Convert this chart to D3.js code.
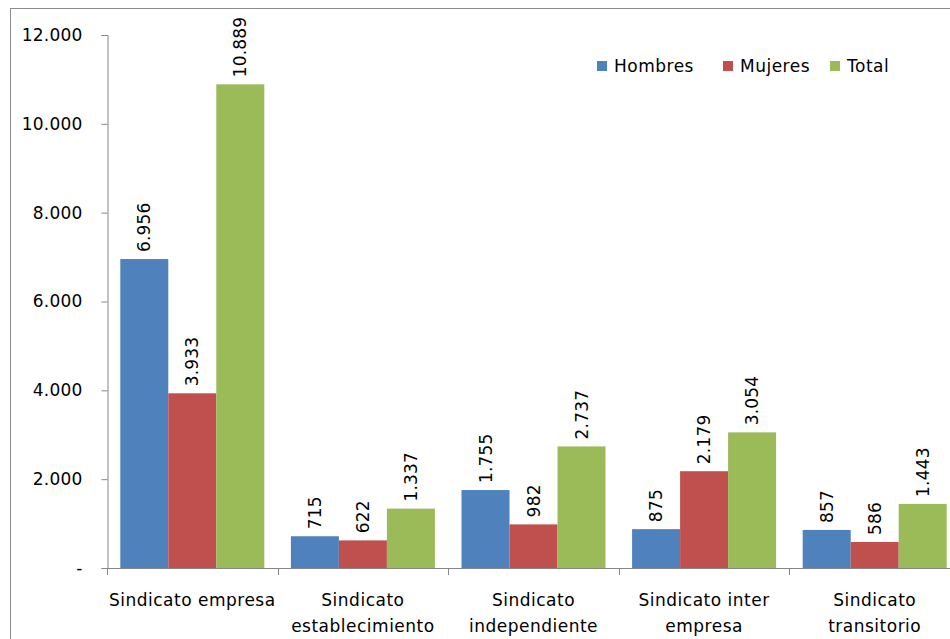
<!DOCTYPE html>
<html>
<head>
<meta charset="utf-8">
<script src="https://cdn.jsdelivr.net/npm/d3@7"></script>
<style>
  body { margin: 0; background: #fff; }
  text { font-family: "DejaVu Sans", Verdana, sans-serif; fill: #000; }
</style>
</head>
<body>
<svg width="950" height="639"></svg>
<script>
// Sindicatos por tipo, socios por sexo

const categories = ['Sindicato empresa', 'Sindicato establecimiento', 'Sindicato independiente', 'Sindicato inter empresa', 'Sindicato transitorio']
const catLines = [['Sindicato empresa'], ['Sindicato', 'establecimiento'], ['Sindicato', 'independiente'], ['Sindicato inter', 'empresa'], ['Sindicato', 'transitorio']]
const series = ['Hombres', 'Mujeres', 'Total']
const hombres = [6956, 715, 1755, 875, 857]
const mujeres = [3933, 622, 982, 2179, 586]
const total = [10889, 1337, 2737, 3054, 1443]
const yTicks = [0, 2000, 4000, 6000, 8000, 10000, 12000]
const colors = ['#4F81BD', '#C0504D', '#9BBB59']

const values = [hombres, mujeres, total]
const fmt = d3.format(',')
function label(v) { return v === 0 ? '-' : fmt(v).replace(/,/g, '.') }

const svg = d3.select('svg')
const plot = {left: 107, right: 960, top: 35, bottom: 568}

// outer chart border
svg.append('rect')
	.attr('x', 10.5).attr('y', 8.5)
	.attr('width', 1000).attr('height', 700)
	.attr('fill', '#fff').attr('stroke', '#8c8c8c')

const x0 = d3.scaleBand().domain(categories).range([plot.left, plot.right])
const x1 = d3.scaleBand().domain(series).range([0, x0.bandwidth()]).paddingOuter(0.277)
const y = d3.scaleLinear().domain([0, 12000]).range([plot.bottom, plot.top])

// y axis
const yAxis = svg.append('g')
	.attr('transform', 'translate(' + (plot.left + 0.5) + ',0)')
	.call(d3.axisLeft(y).tickValues(yTicks).tickSize(6).tickPadding(19).tickFormat(label))
yAxis.selectAll('path, line').attr('stroke', '#868686')
yAxis.selectAll('text').attr('font-size', 17).attr('font-family', '"DejaVu Sans", sans-serif').attr('letter-spacing', 0.2)

// bars
const groups = svg.append('g').selectAll('g')
	.data(categories).join('g')
	.attr('transform', function(d) { return 'translate(' + x0(d) + ',0)' })

groups.selectAll('rect')
	.data(function(d, i) { return series.map(function(s, j) { return {s: s, v: values[j][i], j: j} }) })
	.join('rect')
	.attr('x', function(d) { return x1(d.s) })
	.attr('y', function(d) { return y(d.v) })
	.attr('width', x1.bandwidth())
	.attr('height', function(d) { return plot.bottom - y(d.v) })
	.attr('fill', function(d) { return colors[d.j] })

groups.selectAll('text.val')
	.data(function(d, i) { return series.map(function(s, j) { return {s: s, v: values[j][i]} }) })
	.join('text')
	.attr('class', 'val')
	.attr('transform', function(d) {
		return 'translate(' + (x1(d.s) + x1.bandwidth() / 2) + ',' + (y(d.v) - 7) + ') rotate(-90)'
	})
	.attr('dy', '0.36em')
	.attr('font-size', 17)
	.attr('letter-spacing', 0.2)
	.text(function(d) { return label(d.v) })

// x axis
const xAxis = svg.append('g')
svg.append('line')
	.attr('x1', plot.left).attr('x2', plot.right)
	.attr('y1', plot.bottom + 0.5).attr('y2', plot.bottom + 0.5)
	.attr('stroke', '#868686')
xAxis.selectAll('line')
	.data(categories).join('line')
	.attr('x1', function(d) { return Math.round(x0(d)) + 0.5 })
	.attr('x2', function(d) { return Math.round(x0(d)) + 0.5 })
	.attr('y1', plot.bottom).attr('y2', plot.bottom + 7)
	.attr('stroke', '#868686')

xAxis.selectAll('text')
	.data(categories).join('text')
	.attr('x', function(d) { return x0(d) + x0.bandwidth() / 2 })
	.attr('y', 606)
	.attr('text-anchor', 'middle')
	.attr('font-size', 17)
	.attr('letter-spacing', 0.5)
	.selectAll('tspan')
	.data(function(d, i) { return catLines[i] })
	.join('tspan')
	.attr('x', function() { return x0(this.parentNode.__data__) + x0.bandwidth() / 2 })
	.attr('dy', function(d, i) { return i === 0 ? 0 : 26 })
	.text(function(d) { return d })

// legend
const legendX = [597, 723, 830]
const legend = svg.append('g').selectAll('g')
	.data(series).join('g')
	.attr('transform', function(d, i) { return 'translate(' + legendX[i] + ',61)' })
legend.append('rect')
	.attr('width', 10).attr('height', 10)
	.attr('fill', function(d, i) { return colors[i] })
legend.append('text')
	.attr('x', 17).attr('y', 11)
	.attr('font-size', 17)
	.attr('letter-spacing', 0.5)
	.text(function(d) { return d })
</script>
</body>
</html>
